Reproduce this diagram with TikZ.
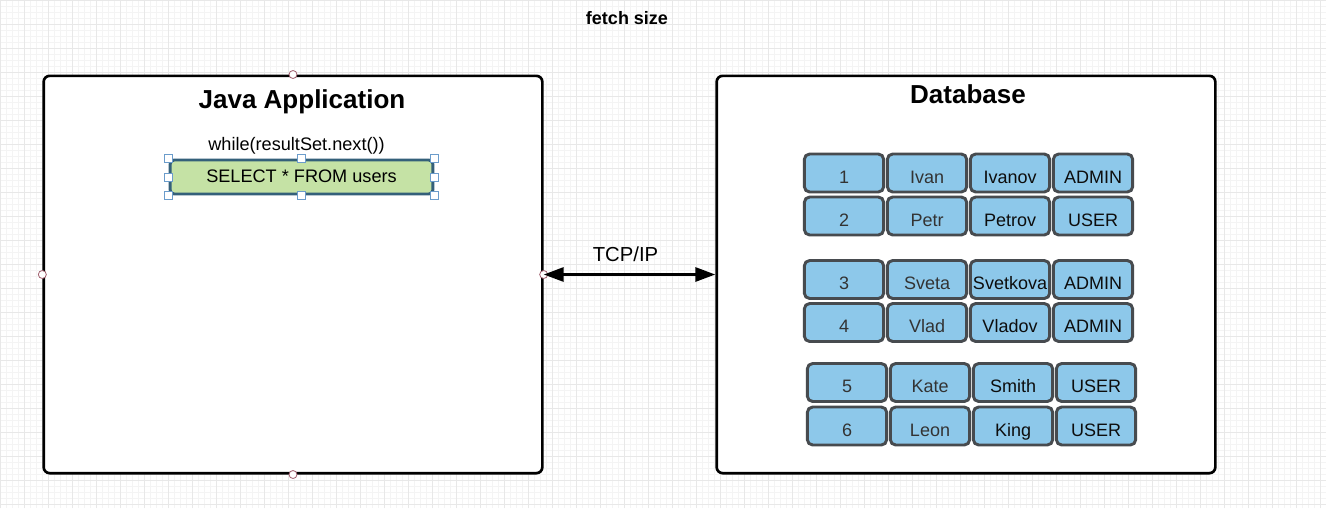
\documentclass[tikz,border=0pt]{standalone}
\usepackage{fontspec}
\setmainfont{Liberation Sans}
\usetikzlibrary{arrows.meta}

\definecolor{cellblue}{HTML}{8DC8EA}
\definecolor{celledge}{HTML}{474B4F}
\definecolor{selgreen}{HTML}{C5E2A5}
\definecolor{seledge}{HTML}{34607A}
\definecolor{handleedge}{HTML}{6B9CCB}
\definecolor{portedge}{HTML}{A0606E}

\begin{document}
\begin{tikzpicture}[x=0.75pt,y=-0.75pt]

    % Define styles
    \tikzset{
        big box/.style={draw=black, line width=2pt, rounded corners=4.5pt, fill=white,
            minimum width=374pt, minimum height=298pt, inner sep=0pt},
        title/.style={font=\fontsize{19.5}{23}\selectfont\bfseries},
        plain text/.style={font=\fontsize{13.6}{16}\selectfont},
        cell/.style={draw=celledge, line width=2.2pt, fill=cellblue, rounded corners=4pt,
            minimum width=59.5pt, minimum height=28.5pt, inner sep=0pt,
            text height=15pt, text depth=0pt, font=\fontsize{13.5}{16}\selectfont},
        query box/.style={draw=seledge, line width=2.2pt, fill=selgreen, rounded corners=3pt,
            minimum width=197pt, minimum height=25.5pt, inner sep=0pt,
            text height=7.5pt, text depth=0pt, font=\fontsize{13.6}{16}\selectfont},
        handle/.style={draw=handleedge, fill=white, line width=0.6pt, minimum size=6pt, inner sep=0pt},
        port/.style={circle, draw=portedge, fill=white, line width=0.6pt, minimum size=6pt, inner sep=0pt},
        link/.style={line width=2.2pt, {Triangle[length=15pt,width=10.5pt]}-{Triangle[length=15pt,width=10.5pt]}}
    }

    \useasboundingbox (0,0) rectangle (1326,508);

    % Background grid of the canvas
    \draw[gray!9, line width=0.4pt, step=4.5pt] (0,0) grid (1326,508);
    \draw[gray!18, line width=0.5pt, step=18pt] (0,0) grid (1326,508);

    % Heading
    \node[anchor=base, font=\fontsize{13.5}{16}\selectfont\bfseries] (heading) at (627,24) {fetch size};

    % The two systems
    \node[big box] (app) at (293,274.5) {};
    \node[big box] (db) at (966,274.5) {};
    \node[title, anchor=base] (app-title) at (302,108) {Java Application};
    \node[title, anchor=base] (db-title) at (968,103) {Database};

    % Query inside the application
    \node[plain text, anchor=base] (loop) at (296.5,150) {while(resultSet.next())};
    \node[query box] (sel) at (301.5,177) {SELECT * FROM users};
    \foreach \a [count=\i] in {north west, north, north east, east, south east, south, south west, west}
        \node[handle] (h\i) at (sel.\a) {};

    % Connection points of the application box
    \foreach \a [count=\i] in {north, west, east, south}
        \node[port] (p\i) at (app.\a) {};

    % Network link
    \draw[link] (app.east) -- (db.west);
    \node[font=\fontsize{15.2}{18}\selectfont, anchor=base] (tcp) at (625.5,261) {TCP/IP};

    % Rows of the users table
    \foreach \n/\first/\last/\role/\y/\dx in {1/Ivan/Ivanov/ADMIN/173/0, 2/Petr/Petrov/USER/216/0,
            3/Sveta/Svetkova/ADMIN/279.5/0, 4/Vlad/Vladov/ADMIN/322.5/0,
            5/Kate/Smith/USER/382.5/3, 6/Leon/King/USER/426/3} {
        \node[cell, text=black!80] (id-\n) at (844+\dx,\y) {\n};
        \node[cell, text=black!80] (first-\n) at (927+\dx,\y) {\first};
        \node[cell, text=black!95] (last-\n) at (1010+\dx,\y) {\last};
        \node[cell, text=black!95] (role-\n) at (1093+\dx,\y) {\role};
    }

\end{tikzpicture}
\end{document}
